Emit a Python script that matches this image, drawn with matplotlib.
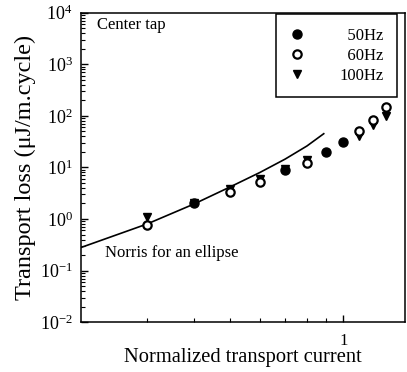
import matplotlib
matplotlib.use("Agg")
import matplotlib.pyplot as plt
from matplotlib.ticker import LogFormatterSciNotation, FixedLocator, NullFormatter, FixedFormatter

plt.rcParams['font.family'] = ['Liberation Serif', 'DejaVu Serif']
plt.rcParams['mathtext.fontset'] = 'stix'

# normalized current / loss values
x_50 = [0.4, 0.7, 0.9, 1.0]
loss_50 = [2.0, 9.0, 20.0, 31.0]

x_60 = [0.3, 0.5, 0.6, 0.8, 1.1, 1.2, 1.3]
loss_60 = [0.75, 3.3, 5.1, 12.0, 50.0, 82.0, 150.0]

x_100 = [0.3, 0.4, 0.5, 0.6, 0.7, 0.8, 1.1, 1.2, 1.3]
loss_100 = [1.1, 2.0, 3.8, 6.0, 9.5, 14.0, 40.0, 65.0, 100.0]

# Norris curve for an ellipse
x_norris = [0.2, 0.3, 0.4, 0.5, 0.6, 0.7, 0.8, 0.887]
loss_norris = [0.28, 0.8, 1.95, 4.2, 8.0, 14.5, 26.0, 45.0]

y_decades = [1e-2, 1e-1, 1e0, 1e1, 1e2, 1e3, 1e4]

fig = plt.figure(figsize=(4.07, 3.72), dpi=100)
ax = fig.add_axes([0.199, 0.134, 0.796, 0.832])

ax.plot(x_norris, loss_norris, color='black', linewidth=1.2, zorder=2)
ax.plot(x_100, loss_100, linestyle='none', marker='v', markersize=6,
        color='black', label='100Hz', zorder=3)
ax.plot(x_60, loss_60, linestyle='none', marker='o', markersize=6,
        markerfacecolor='white', markeredgecolor='black', markeredgewidth=1.6,
        label='60Hz', zorder=4)
ax.plot(x_50, loss_50, linestyle='none', marker='o', markersize=6.5,
        color='black', label='50Hz', zorder=5)

ax.set_xscale('log')
ax.set_yscale('log')
ax.set_xlim(0.2, 1.46)
ax.set_ylim(1e-2, 1e4)

ax.xaxis.set_major_locator(FixedLocator([1.0]))
ax.xaxis.set_major_formatter(FixedFormatter(['1']))
ax.xaxis.set_minor_locator(FixedLocator([0.3, 0.4, 0.5, 0.6, 0.7, 0.8, 0.9]))
ax.xaxis.set_minor_formatter(NullFormatter())

# decades plus 2..9 minor ticks, all inside the visible range
minor_y = [d * k for d in y_decades[:-1] for k in range(2, 10)]
ax.yaxis.set_major_locator(FixedLocator(y_decades))
ax.yaxis.set_major_formatter(LogFormatterSciNotation())
ax.yaxis.set_minor_locator(FixedLocator(minor_y))
ax.yaxis.set_minor_formatter(NullFormatter())

ax.tick_params(which='both', direction='in', top=False, right=False)
ax.tick_params(which='major', length=5, width=1, labelsize=13, pad=6)
ax.tick_params(which='minor', length=3, width=0.8)
ax.tick_params(axis='x', which='major', pad=8, labelsize=12)

for sp in ax.spines.values():
    sp.set_linewidth(1.1)

ax.set_xlabel('Normalized transport current', fontsize=14.8, labelpad=-1)
ax.set_ylabel('Transport loss (\u03bcJ/m.cycle)', fontsize=17.5, labelpad=3)

ax.text(0.05, 0.985, 'Center tap', transform=ax.transAxes, fontsize=12,
        ha='left', va='top')
ax.text(0.075, 0.225, 'Norris for an ellipse', transform=ax.transAxes,
        fontsize=12, ha='left', va='center')

handles, labels = ax.get_legend_handles_labels()
order = [2, 1, 0]
leg = ax.legend([handles[i] for i in order],
                ['\u200750Hz', '\u200760Hz', '100Hz'],
                loc='upper right', bbox_to_anchor=(0.975, 0.995),
                fontsize=12, frameon=True, fancybox=False, framealpha=1,
                edgecolor='black', handlelength=1.0, handletextpad=2.0,
                borderpad=0.8, labelspacing=0.25, borderaxespad=0)
leg.get_frame().set_linewidth(1.1)

fig.savefig('out.png', dpi=100)
